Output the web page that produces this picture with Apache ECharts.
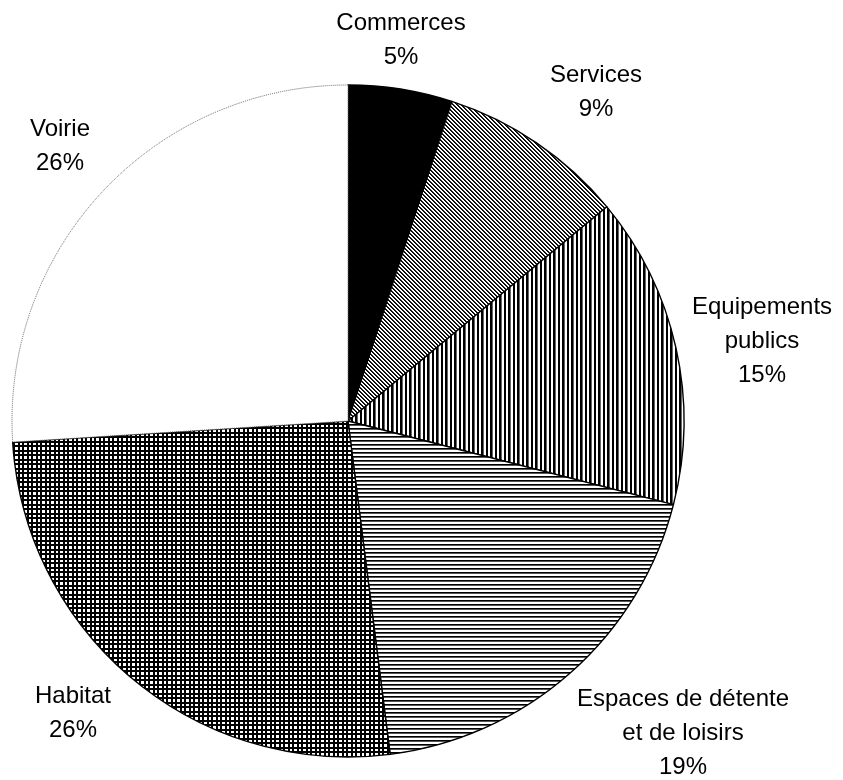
<!DOCTYPE html>
<html>
<head>
<meta charset="utf-8">
<script src="https://cdn.jsdelivr.net/npm/echarts@6/dist/echarts.min.js"></script>
<style>
  html, body { margin: 0; padding: 0; background: #fff; }
  #chart { width: 843px; height: 780px; }
</style>
</head>
<body>
<div id="chart"></div>
<script>
// Land-use breakdown (percent of total surface)
const categories = ['Commerces', 'Services', 'Equipements\npublics', 'Espaces de détente\net de loisirs', 'Habitat', 'Voirie'];
const shares = [5, 9, 15, 19, 26, 26];

// Label anchor points (centre of each text block)
const labelPos = [[401, 40], [596, 92], [762, 341], [683, 733], [73, 713], [60, 146]];

// Build a monochrome tiled fill from a small canvas
function pattern(size, draw) {
  const c = document.createElement('canvas');
  c.width = size; c.height = size;
  const ctx = c.getContext('2d');
  ctx.fillStyle = '#fff';
  ctx.fillRect(0, 0, size, size);
  draw(ctx, size);
  return { image: c, repeat: 'repeat' };
}

const fills = [
  '#000',
  // diagonal hatching
  pattern(4, (ctx, s) => {
    for (let i = 0; i < s; i++) {
      ctx.fillStyle = '#000';
      ctx.fillRect(i, i, 1, 1);
      ctx.fillStyle = '#222';
      ctx.fillRect((i + 1) % s, i, 1, 1);
    }
  }),
  // vertical stripes
  pattern(9, (ctx) => {
    ctx.fillStyle = '#000';
    ctx.fillRect(0, 0, 2, 9);
    ctx.fillRect(4, 0, 2, 9);
    ctx.fillStyle = '#666';
    ctx.fillRect(6, 0, 1, 9);
  }),
  // horizontal stripes
  pattern(4, (ctx) => {
    ctx.fillStyle = '#000';
    ctx.fillRect(0, 0, 4, 1);
    ctx.fillStyle = '#555';
    ctx.fillRect(0, 1, 4, 1);
  }),
  // grid
  pattern(9, (ctx) => {
    ctx.fillStyle = '#000';
    ctx.fillRect(0, 0, 9, 2);
    ctx.fillRect(0, 4, 9, 2);
    ctx.fillRect(0, 0, 2, 9);
    ctx.fillRect(4, 0, 2, 9);
  }),
  '#fff'
];

const chart = echarts.init(document.getElementById('chart'), null, { renderer: 'canvas' });

chart.setOption({
  backgroundColor: '#fff',
  animation: false,
  series: [{
    type: 'pie',
    center: [348, 421],
    radius: 336,
    startAngle: 90,
    clockwise: true,
    avoidLabelOverlap: false,
    silent: true,
    data: categories.map((name, i) => ({
      name: name,
      value: shares[i],
      itemStyle: i === 5
        ? { color: fills[i], borderColor: '#666', borderWidth: 1, borderType: 'dotted' }
        : { color: fills[i], borderColor: '#000', borderWidth: 1.4 }
    })),
    label: {
      show: true,
      formatter: '{b}\n{c}%',
      fontFamily: 'Liberation Sans, Arial, sans-serif',
      fontSize: 24,
      lineHeight: 34,
      color: '#000',
      align: 'center'
    },
    labelLine: { show: false },
    labelLayout: function (p) {
      const pos = labelPos[p.dataIndex];
      return { x: pos[0], y: pos[1], align: 'center', verticalAlign: 'middle' };
    },
    emphasis: { disabled: true }
  }]
});
</script>
</body>
</html>
